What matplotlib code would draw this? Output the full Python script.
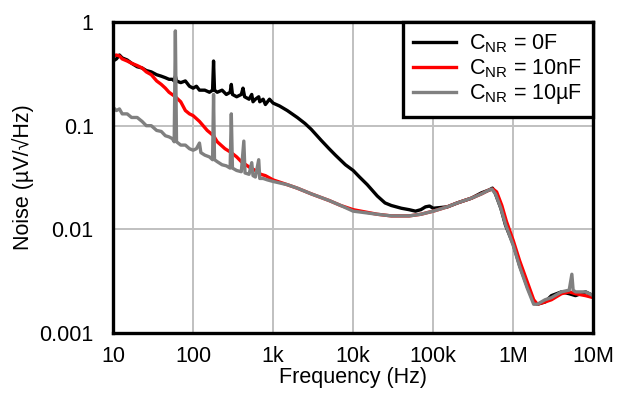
import matplotlib
matplotlib.use("Agg")
import matplotlib.pyplot as plt
from matplotlib.ticker import FixedLocator, NullLocator

plt.rcParams['font.family'] = ['Liberation Sans', 'DejaVu Sans']

# Noise density (Hz, uV/rtHz)
freq_0f = [10, 11, 12, 13, 15, 17, 20, 23, 26, 30, 35, 40, 45, 50, 55, 58, 60, 62, 70, 80,
           90, 100, 110, 120, 140, 160, 175, 180, 185, 200, 230, 260, 290, 300, 310, 350,
           400, 420, 440, 500, 540, 560, 600, 660, 680, 750, 800, 900, 1000, 1200, 1500,
           2000, 2500, 3000, 4000, 5000, 6000, 8000, 10000, 12000, 15000, 20000, 25000,
           30000, 40000, 50000, 60000, 70000, 80000, 90000, 100000, 150000, 200000, 300000,
           400000, 500000, 550000, 600000, 700000, 800000, 1e6, 1.2e6, 1.5e6, 1.8e6, 2e6,
           2.5e6, 3e6, 4e6, 5e6, 6e6, 8e6, 1e7]
noise_0f = [0.42, 0.44, 0.48, 0.45, 0.43, 0.40, 0.37, 0.36, 0.34, 0.33, 0.31, 0.30, 0.29,
            0.28, 0.28, 0.27, 0.30, 0.27, 0.26, 0.27, 0.24, 0.23, 0.24, 0.22, 0.22, 0.21,
            0.22, 0.42, 0.22, 0.21, 0.22, 0.20, 0.21, 0.25, 0.20, 0.19, 0.20, 0.23, 0.19,
            0.18, 0.20, 0.17, 0.18, 0.19, 0.17, 0.18, 0.16, 0.18, 0.165, 0.155, 0.14, 0.12,
            0.105, 0.092, 0.072, 0.06, 0.052, 0.042, 0.037, 0.032, 0.027, 0.021, 0.018,
            0.017, 0.016, 0.0155, 0.015, 0.0155, 0.0165, 0.0168, 0.016, 0.0165, 0.018,
            0.020, 0.0225, 0.024, 0.025, 0.022, 0.016, 0.011, 0.0072, 0.0045, 0.0028,
            0.0020, 0.0019, 0.0020, 0.0023, 0.0025, 0.0024, 0.0023, 0.0025, 0.0023]

freq_10n = [10, 11, 12, 13, 15, 17, 20, 23, 26, 30, 35, 40, 45, 50, 60, 70, 80, 90, 100,
            120, 150, 180, 200, 250, 300, 350, 400, 500, 600, 700, 800, 1000, 1500, 2000,
            3000, 5000, 7000, 10000, 20000, 30000, 50000, 70000, 100000, 150000, 200000,
            300000, 400000, 500000, 560000, 620000, 720000, 820000, 1e6, 1.2e6, 1.5e6,
            1.8e6, 2e6, 2.5e6, 3e6, 4e6, 5e6, 6e6, 8e6, 1e7]
noise_10n = [0.47, 0.48, 0.47, 0.44, 0.42, 0.40, 0.38, 0.36, 0.33, 0.31, 0.27, 0.25, 0.23,
             0.21, 0.19, 0.17, 0.14, 0.13, 0.125, 0.11, 0.09, 0.08, 0.07, 0.06, 0.055,
             0.05, 0.045, 0.04, 0.037, 0.034, 0.033, 0.030, 0.027, 0.025, 0.022, 0.019,
             0.017, 0.0155, 0.014, 0.0135, 0.0135, 0.014, 0.015, 0.0165, 0.018, 0.020,
             0.022, 0.024, 0.0245, 0.023, 0.017, 0.012, 0.0078, 0.0050, 0.0031, 0.0021,
             0.0019, 0.0020, 0.0021, 0.0024, 0.0025, 0.0024, 0.0023, 0.0022]

freq_10u = [10, 11, 12, 13, 15, 17, 20, 23, 26, 30, 35, 40, 45, 50, 55, 58, 60, 62, 70, 80,
            90, 100, 110, 120, 125, 140, 160, 175, 180, 185, 200, 230, 260, 290, 300, 310,
            350, 400, 430, 445, 500, 540, 560, 600, 660, 680, 750, 850, 1000, 1500, 2000,
            3000, 5000, 7000, 10000, 20000, 30000, 50000, 70000, 100000, 150000, 200000,
            300000, 400000, 500000, 540000, 600000, 700000, 800000, 1e6, 1.2e6, 1.5e6,
            1.8e6, 2e6, 2.5e6, 3e6, 4e6, 5e6, 5.4e6, 5.6e6, 6e6, 8e6, 1e7]
noise_10u = [0.15, 0.14, 0.145, 0.13, 0.13, 0.12, 0.12, 0.11, 0.10, 0.10, 0.09, 0.088,
             0.08, 0.078, 0.075, 0.07, 0.82, 0.07, 0.065, 0.065, 0.06, 0.058, 0.06, 0.068,
             0.055, 0.052, 0.05, 0.047, 0.20, 0.047, 0.045, 0.042, 0.041, 0.039, 0.13,
             0.039, 0.037, 0.036, 0.071, 0.035, 0.034, 0.044, 0.033, 0.032, 0.047, 0.031,
             0.031, 0.030, 0.029, 0.027, 0.025, 0.022, 0.019, 0.017, 0.015, 0.014, 0.0135,
             0.0135, 0.014, 0.015, 0.0165, 0.018, 0.020, 0.022, 0.024, 0.0245, 0.022,
             0.016, 0.0112, 0.0070, 0.0044, 0.0027, 0.0019, 0.0019, 0.0021, 0.0022, 0.0025,
             0.0026, 0.0037, 0.0026, 0.0025, 0.0025, 0.0023]

labels = [r'C$_\mathregular{NR}$ = 0F', r'C$_\mathregular{NR}$ = 10nF',
          r'C$_\mathregular{NR}$ = 10µF']
colors = ['#000000', '#ff0000', '#808080']

xticks = [10, 100, 1e3, 1e4, 1e5, 1e6, 1e7]
xtick_labels = ['10', '100', '1k', '10k', '100k', '1M', '10M']
yticks = [0.001, 0.01, 0.1, 1]
ytick_labels = ['0.001', '0.01', '0.1', '1']

fig = plt.figure(figsize=(6.18, 3.99), dpi=100)
ax = fig.add_axes([0.183, 0.165, 0.777, 0.78])

series = [(freq_0f, noise_0f), (freq_10n, noise_10n), (freq_10u, noise_10u)]
for (f, v), c, lab in zip(series, colors, labels):
    ax.plot(f, v, color=c, lw=2.4, label=lab)

ax.set_xscale('log')
ax.set_yscale('log')
ax.set_xlim(10, 1e7)
ax.set_ylim(0.001, 1)
ax.xaxis.set_major_locator(FixedLocator(xticks))
ax.yaxis.set_major_locator(FixedLocator(yticks))
ax.xaxis.set_minor_locator(NullLocator())
ax.yaxis.set_minor_locator(NullLocator())
ax.set_xticklabels(xtick_labels)
ax.set_yticklabels(ytick_labels)
ax.tick_params(axis='x', length=0, labelsize=15.5, pad=9)
ax.tick_params(axis='y', length=0, labelsize=15.5, pad=14)
ax.grid(True, color='#c0c0c0', lw=1.4)
ax.set_axisbelow(True)
for s in ax.spines.values():
    s.set_linewidth(2.4)

ax.set_xlabel('Frequency (Hz)', fontsize=15.5, labelpad=0)
ax.set_ylabel('Noise (µV/√Hz)', fontsize=15.5, labelpad=4)

leg = ax.legend(loc='upper right', fontsize=15.5, frameon=True, fancybox=False,
                borderaxespad=0, handlelength=2.0, labelspacing=0.1,
                borderpad=0.5, handletextpad=0.6)
leg.get_frame().set_edgecolor('black')
leg.get_frame().set_linewidth(2.4)
leg.get_frame().set_alpha(1)

plt.savefig('out.png', dpi=100)
plt.close()
